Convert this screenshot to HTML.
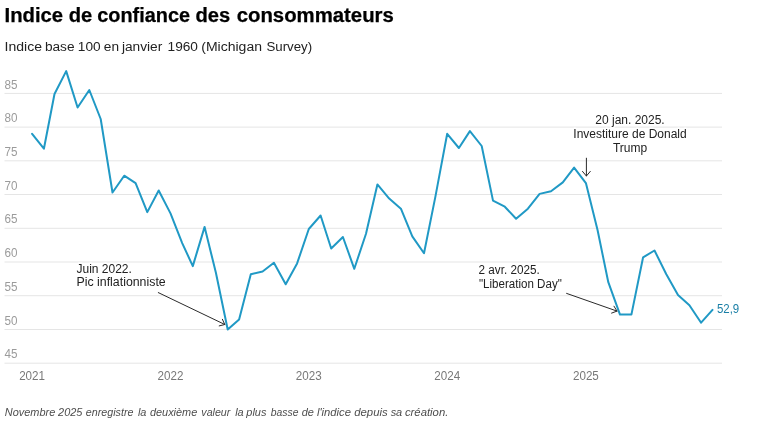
<!DOCTYPE html>
<html lang="fr"><head><meta charset="utf-8"><title>Indice de confiance des consommateurs</title>
<style>
html,body{margin:0;padding:0;background:#fff;}
body{width:760px;height:421px;overflow:hidden;position:relative;font-family:"Liberation Sans",sans-serif;}
svg{position:absolute;left:0;top:0;display:block;}
svg text{font-family:"Liberation Sans",sans-serif;}
.grid line{stroke:#e5e5e5;stroke-width:1;}
.tick text{font-size:12px;fill:#9b9b9b;}.tick text.xl{fill:#787878;}
.ann text{font-size:12px;fill:#222;stroke:#fff;stroke-width:3px;paint-order:stroke;stroke-linejoin:round;}
.arrow{stroke:#2a2a2a;stroke-width:1;fill:none;stroke-linecap:round;stroke-linejoin:round;}
</style></head><body>
<svg width="760" height="421" viewBox="0 0 760 421">
<text y="22" font-size="20" font-weight="bold" fill="#000" stroke="#000" stroke-width="0.25"><tspan x="4.53" textLength="58.57" lengthAdjust="spacingAndGlyphs">Indice</tspan> <tspan x="68.76" textLength="23.54" lengthAdjust="spacingAndGlyphs">de</tspan> <tspan x="97.28" textLength="92.72" lengthAdjust="spacingAndGlyphs">confiance</tspan> <tspan x="195.56" textLength="34.76" lengthAdjust="spacingAndGlyphs">des</tspan> <tspan x="236.66" textLength="157.16" lengthAdjust="spacingAndGlyphs">consommateurs</tspan></text>
<text y="51" font-size="13.7" fill="#222"><tspan x="4.50" textLength="37.47" lengthAdjust="spacingAndGlyphs">Indice</tspan> <tspan x="44.88" textLength="29.64" lengthAdjust="spacingAndGlyphs">base</tspan> <tspan x="77.79" textLength="22.80" lengthAdjust="spacingAndGlyphs">100</tspan> <tspan x="103.82" textLength="15.20" lengthAdjust="spacingAndGlyphs">en</tspan> <tspan x="121.93" textLength="40.34" lengthAdjust="spacingAndGlyphs">janvier</tspan> <tspan x="167.54" textLength="30.41" lengthAdjust="spacingAndGlyphs">1960</tspan> <tspan x="201.24" textLength="60.74" lengthAdjust="spacingAndGlyphs">(Michigan</tspan> <tspan x="266.38" textLength="45.80" lengthAdjust="spacingAndGlyphs">Survey)</tspan></text>
<g class="grid"><line x1="4.5" x2="722" y1="363.2" y2="363.2"/><line x1="4.5" x2="722" y1="329.5" y2="329.5"/><line x1="4.5" x2="722" y1="295.7" y2="295.7"/><line x1="4.5" x2="722" y1="262.0" y2="262.0"/><line x1="4.5" x2="722" y1="228.3" y2="228.3"/><line x1="4.5" x2="722" y1="194.5" y2="194.5"/><line x1="4.5" x2="722" y1="160.8" y2="160.8"/><line x1="4.5" x2="722" y1="127.1" y2="127.1"/><line x1="4.5" x2="722" y1="93.4" y2="93.4"/></g>
<g class="tick"><text x="4.6" y="358.40" textLength="13" lengthAdjust="spacingAndGlyphs">45</text><text x="4.6" y="324.67" textLength="13" lengthAdjust="spacingAndGlyphs">50</text><text x="4.6" y="290.94" textLength="13" lengthAdjust="spacingAndGlyphs">55</text><text x="4.6" y="257.21" textLength="13" lengthAdjust="spacingAndGlyphs">60</text><text x="4.6" y="223.48" textLength="13" lengthAdjust="spacingAndGlyphs">65</text><text x="4.6" y="189.75" textLength="13" lengthAdjust="spacingAndGlyphs">70</text><text x="4.6" y="156.02" textLength="13" lengthAdjust="spacingAndGlyphs">75</text><text x="4.6" y="122.29" textLength="13" lengthAdjust="spacingAndGlyphs">80</text><text x="4.6" y="88.56" textLength="13" lengthAdjust="spacingAndGlyphs">85</text><text x="32.1" class="xl" y="380" text-anchor="middle" textLength="25.9" lengthAdjust="spacingAndGlyphs">2021</text><text x="170.5" class="xl" y="380" text-anchor="middle" textLength="25.9" lengthAdjust="spacingAndGlyphs">2022</text><text x="308.8" class="xl" y="380" text-anchor="middle" textLength="25.9" lengthAdjust="spacingAndGlyphs">2023</text><text x="447.2" class="xl" y="380" text-anchor="middle" textLength="25.9" lengthAdjust="spacingAndGlyphs">2024</text><text x="585.9" class="xl" y="380" text-anchor="middle" textLength="25.9" lengthAdjust="spacingAndGlyphs">2025</text></g>
<polyline points="32.1,133.8 43.9,148.7 54.5,94.0 66.2,71.1 77.6,107.5 89.3,90.0 100.7,119.0 112.5,192.5 124.2,175.7 135.6,183.1 147.3,212.1 158.7,190.5 170.5,213.4 182.2,243.1 192.8,266.1 204.6,226.9 215.9,272.8 227.7,329.5 239.1,319.4 250.8,274.2 262.6,271.5 273.9,262.7 285.7,284.3 297.1,263.4 308.8,229.0 320.6,215.5 331.2,248.5 342.9,237.0 354.3,268.8 366.0,233.7 377.4,184.4 389.2,198.6 400.9,208.7 412.3,236.4 424.0,253.2 435.4,196.6 447.2,133.8 458.9,148.0 469.9,131.1 481.7,146.0 493.0,200.6 504.8,206.7 516.1,218.8 527.9,208.7 539.6,193.9 551.0,191.2 562.8,182.4 574.1,167.6 585.9,183.1 597.6,230.3 608.3,282.2 620.0,314.6 631.4,314.6 643.1,257.3 654.5,250.5 666.3,274.2 678.0,295.1 689.4,305.2 701.1,322.7 712.5,309.9" fill="none" stroke="#2099c5" stroke-width="2" stroke-linejoin="round" stroke-linecap="round"/>
<text x="716.9" y="313" font-size="12" fill="#1a7fa6" textLength="22.3" lengthAdjust="spacingAndGlyphs">52,9</text>
<g class="ann">
<text x="630" y="124" text-anchor="middle">20 jan. 2025.</text>
<text x="630" y="138" text-anchor="middle">Investiture de Donald</text>
<text x="630" y="152" text-anchor="middle">Trump</text>
<text x="76.5" y="272.6">Juin 2022.</text>
<text x="76.5" y="286.1" textLength="89.2" lengthAdjust="spacingAndGlyphs">Pic inflationniste</text>
<text x="478.6" y="274.2" textLength="61.2" lengthAdjust="spacingAndGlyphs">2 avr. 2025.</text>
<text x="479" y="288" textLength="82.8" lengthAdjust="spacingAndGlyphs">"Liberation Day"</text>
</g>
<g class="arrow"><path d="M586.4 158.2 L586.4 176.0 M582.5 171.4 L586.4 176.0 L590.3 171.4"/><path d="M158.3 292.6 L224.8 324.5 M219.2 325.9 L224.8 324.5 L222.4 319.3"/><path d="M566.6 293.4 L617.0 311.1 M611.6 313.1 L617.0 311.1 L614.0 306.2"/></g>
<text y="416" font-size="11.4" font-style="italic" fill="#4d4d4d"><tspan x="4.83" textLength="50.44" lengthAdjust="spacingAndGlyphs">Novembre</tspan> <tspan x="58.07" textLength="24.36" lengthAdjust="spacingAndGlyphs">2025</tspan> <tspan x="85.87" textLength="47.60" lengthAdjust="spacingAndGlyphs">enregistre</tspan> <tspan x="137.89" textLength="8.52" lengthAdjust="spacingAndGlyphs">la</tspan> <tspan x="149.96" textLength="47.31" lengthAdjust="spacingAndGlyphs">deuxième</tspan> <tspan x="201.30" textLength="29.05" lengthAdjust="spacingAndGlyphs">valeur</tspan> <tspan x="235.14" textLength="8.52" lengthAdjust="spacingAndGlyphs">la</tspan> <tspan x="246.31" textLength="20.08" lengthAdjust="spacingAndGlyphs">plus</tspan> <tspan x="270.78" textLength="27.69" lengthAdjust="spacingAndGlyphs">basse</tspan> <tspan x="301.68" textLength="12.18" lengthAdjust="spacingAndGlyphs">de</tspan> <tspan x="316.92" textLength="34.06" lengthAdjust="spacingAndGlyphs">l'indice</tspan> <tspan x="354.25" textLength="33.43" lengthAdjust="spacingAndGlyphs">depuis</tspan> <tspan x="390.65" textLength="11.56" lengthAdjust="spacingAndGlyphs">sa</tspan> <tspan x="404.95" textLength="43.43" lengthAdjust="spacingAndGlyphs">création.</tspan></text>
</svg>
</body></html>
